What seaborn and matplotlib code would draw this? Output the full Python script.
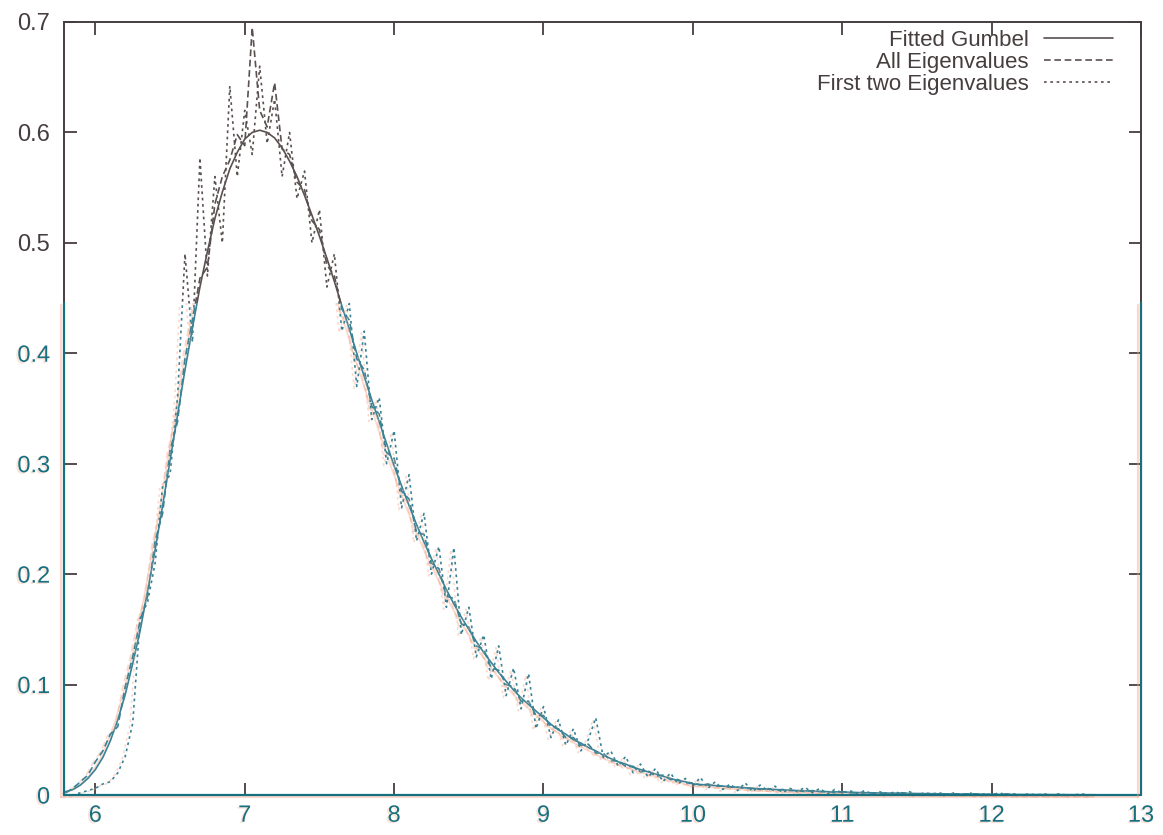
import numpy as np
import pandas as pd
import matplotlib
matplotlib.use("Agg")
import matplotlib.pyplot as plt
import matplotlib.patheffects as pe
from matplotlib.lines import Line2D
from matplotlib.transforms import Bbox, TransformedBbox
import seaborn as sns

sns.set_theme(style="ticks")
plt.rcParams["font.family"] = ["Liberation Sans", "DejaVu Sans"]

# density grid (bin centres, step 0.05)
x = np.round(np.arange(5.80, 12.70 + 1e-9, 0.05), 2)

fitted_gumbel = [
    0.003, 0.005, 0.009, 0.015, 0.023, 0.034, 0.049, 0.068, 0.091, 0.119,
    0.149, 0.185, 0.222, 0.262, 0.303, 0.344, 0.385, 0.423, 0.460, 0.492,
    0.522, 0.546, 0.567, 0.582, 0.594, 0.600, 0.602, 0.600, 0.595, 0.586,
    0.574, 0.560, 0.543, 0.525, 0.506, 0.486, 0.465, 0.443, 0.422, 0.400,
    0.379, 0.358, 0.338, 0.318, 0.298, 0.280, 0.262, 0.245, 0.229, 0.214,
    0.200, 0.186, 0.173, 0.161, 0.150, 0.139, 0.129, 0.120, 0.111, 0.103,
    0.095, 0.088, 0.082, 0.076, 0.070, 0.064, 0.059, 0.055, 0.050, 0.047,
    0.043, 0.040, 0.036, 0.033, 0.030, 0.028, 0.025, 0.023, 0.021, 0.019,
    0.017, 0.015, 0.013, 0.012, 0.010, 0.0095, 0.009, 0.0085, 0.008, 0.0075,
    0.007, 0.0065, 0.006, 0.0057, 0.0053, 0.005, 0.0046, 0.0043, 0.004, 0.0037,
    0.0034, 0.0032, 0.003, 0.0028, 0.0026, 0.0024, 0.0022, 0.0021, 0.0019, 0.0018,
    0.0017, 0.0016, 0.0015, 0.0014, 0.0013, 0.0012, 0.0011, 0.0010, 0.0010, 0.0009,
    0.0008, 0.0008, 0.0007, 0.0007, 0.0006, 0.0006, 0.0005, 0.0005, 0.0005, 0.0004,
    0.0004, 0.0004, 0.0003, 0.0003, 0.0003, 0.0003, 0.0002, 0.0002, 0.0002,
]

all_eigenvalues = [
    0.002, 0.006, 0.012, 0.018, 0.030, 0.040, 0.055, 0.062, 0.098, 0.125,
    0.158, 0.180, 0.230, 0.255, 0.312, 0.338, 0.395, 0.430, 0.468, 0.478,
    0.535, 0.560, 0.575, 0.598, 0.588, 0.695, 0.620, 0.605, 0.645, 0.585,
    0.580, 0.555, 0.548, 0.520, 0.512, 0.480, 0.470, 0.440, 0.430, 0.395,
    0.385, 0.352, 0.345, 0.310, 0.305, 0.275, 0.268, 0.238, 0.236, 0.210,
    0.205, 0.180, 0.178, 0.155, 0.152, 0.135, 0.132, 0.115, 0.113, 0.100,
    0.098, 0.085, 0.085, 0.072, 0.072, 0.062, 0.060, 0.052, 0.052, 0.045,
    0.046, 0.038, 0.038, 0.031, 0.031, 0.026, 0.026, 0.021, 0.022, 0.017,
    0.018, 0.014, 0.014, 0.011, 0.011, 0.009, 0.010, 0.008, 0.008, 0.007,
    0.007, 0.006, 0.006, 0.005, 0.006, 0.004, 0.005, 0.004, 0.004, 0.003,
    0.004, 0.003, 0.003, 0.002, 0.003, 0.002, 0.002, 0.002, 0.002, 0.001,
    0.002, 0.001, 0.002, 0.001, 0.001, 0.001, 0.001, 0.001, 0.001, 0.001,
    0.001, 0.001, 0.001, 0.000, 0.001, 0.000, 0.001, 0.000, 0.000, 0.000,
    0.000, 0.000, 0.000, 0.000, 0.000, 0.000, 0.000, 0.000, 0.000,
]

first_two_eigenvalues = [
    0.000, 0.000, 0.002, 0.004, 0.006, 0.010, 0.012, 0.020, 0.035, 0.065,
    0.160, 0.175, 0.210, 0.280, 0.290, 0.360, 0.490, 0.410, 0.577, 0.470,
    0.560, 0.500, 0.642, 0.560, 0.620, 0.580, 0.660, 0.590, 0.630, 0.560,
    0.600, 0.540, 0.565, 0.500, 0.530, 0.460, 0.490, 0.420, 0.445, 0.370,
    0.420, 0.340, 0.360, 0.300, 0.330, 0.260, 0.290, 0.230, 0.255, 0.200,
    0.225, 0.170, 0.224, 0.145, 0.170, 0.125, 0.145, 0.105, 0.135, 0.090,
    0.115, 0.078, 0.110, 0.060, 0.080, 0.052, 0.068, 0.045, 0.060, 0.040,
    0.050, 0.070, 0.034, 0.040, 0.026, 0.035, 0.020, 0.028, 0.016, 0.024,
    0.012, 0.020, 0.010, 0.015, 0.008, 0.016, 0.006, 0.012, 0.005, 0.010,
    0.004, 0.011, 0.003, 0.009, 0.004, 0.008, 0.002, 0.006, 0.003, 0.007,
    0.002, 0.006, 0.001, 0.005, 0.002, 0.004, 0.001, 0.004, 0.001, 0.003,
    0.000, 0.003, 0.001, 0.003, 0.000, 0.002, 0.001, 0.002, 0.000, 0.002,
    0.000, 0.002, 0.000, 0.001, 0.000, 0.002, 0.000, 0.001, 0.000, 0.001,
    0.000, 0.001, 0.000, 0.001, 0.000, 0.000, 0.001, 0.000, 0.000,
]

series_names = ["Fitted Gumbel", "All Eigenvalues", "First two Eigenvalues"]
x_ticks = [6, 7, 8, 9, 10, 11, 12, 13]
y_ticks = [0, 0.1, 0.2, 0.3, 0.4, 0.5, 0.6, 0.7]
y_tick_labels = ["0", "0.1", "0.2", "0.3", "0.4", "0.5", "0.6", "0.7"]

df = pd.DataFrame({
    "x": np.tile(x, 3),
    "density": np.concatenate([fitted_gumbel, all_eigenvalues, first_two_eigenvalues]),
    "series": np.repeat(series_names, len(x)),
})

INK = "#463e3e"
LINE_INK = "#5a5050"
TEAL = "#17707f"
TEAL_LINE = "#3a8294"
ORANGE = "#f5a283"
SPLIT = 0.4455   # colour change of the print, in data units

fig = plt.figure(figsize=(11.63, 8.35), dpi=100)
ax = fig.add_axes([64 / 1163, 40 / 835, (1141 - 64) / 1163, (795 - 22) / 835])

sns.lineplot(
    data=df, x="x", y="density", hue="series", style="series",
    hue_order=series_names, style_order=series_names,
    palette={n: LINE_INK for n in series_names},
    dashes={"Fitted Gumbel": "", "All Eigenvalues": (4, 2.2), "First two Eigenvalues": (1.6, 2.2)},
    linewidth=1.2, estimator=None, sort=False, legend=False, ax=ax,
)

ax.set_xlim(5.79, 13)
ax.set_ylim(0, 0.7)
ax.set_xticks(x_ticks)
ax.set_xticklabels([str(t) for t in x_ticks])
ax.set_yticks(y_ticks)
ax.set_yticklabels(y_tick_labels)
ax.set_xlabel("")
ax.set_ylabel("")

ax.tick_params(axis="both", which="major", direction="in", length=9, width=1.3,
               top=True, right=True, labelsize=17, colors=INK)
ax.tick_params(axis="x", pad=7)
ax.tick_params(axis="y", pad=10)
for s in ax.spines.values():
    s.set_color(INK)
    s.set_linewidth(1.4)

# legend in the upper right, text before the line sample
data_lines = list(ax.lines)
leg = ax.legend(data_lines, series_names, loc="upper right", frameon=False,
                markerfirst=False, fontsize=16, handlelength=3.1, handletextpad=0.7,
                labelspacing=0.05, borderpad=0, borderaxespad=0,
                bbox_to_anchor=((1113 - 64) / 1077, (795 - 30) / 773))
for t in leg.get_texts():
    t.set_color(INK)

# lower band of the print: teal ink with an orange fringe
fringe = [pe.SimpleLineShadow(offset=(-2.0, -1.3), shadow_color=ORANGE, alpha=0.4), pe.Normal()]
text_fringe = [pe.withSimplePatchShadow(offset=(-1.4, -1.0), shadow_rgbFace=ORANGE, alpha=0.3)]

upper_clip = TransformedBbox(Bbox([[5.0, SPLIT], [14.0, 1.0]]), ax.transData)
lower_clip = TransformedBbox(Bbox([[5.0, -1.0], [14.0, SPLIT]]), ax.transData)
for ln in data_lines:
    ln.set_clip_box(upper_clip)
    low = Line2D([], [])
    low.update_from(ln)
    low.set_data(ln.get_xdata(), ln.get_ydata())
    low.set_color(TEAL_LINE)
    ax.add_line(low)
    low.set_clip_box(lower_clip)
    low.set_path_effects(fringe)

frac = SPLIT / 0.7
for xs, ys in [([0, 0], [0, frac]), ([0, 1], [0, 0]), ([1, 1], [0, frac])]:
    ax.add_line(Line2D(xs, ys, transform=ax.transAxes, color=TEAL, linewidth=1.6,
                       clip_on=False, zorder=5, path_effects=fringe))

for tk in ax.xaxis.get_major_ticks():
    tk.tick1line.set_color(TEAL)
    tk.label1.set_color(TEAL)
    tk.label1.set_path_effects(text_fringe)
for tk, val in zip(ax.yaxis.get_major_ticks(), y_ticks):
    if val < SPLIT:
        tk.tick1line.set_color(TEAL)
        tk.tick2line.set_color(TEAL)
        tk.label1.set_color(TEAL)
        tk.label1.set_path_effects(text_fringe)

fig.savefig("out.png", dpi=100, facecolor="white")
